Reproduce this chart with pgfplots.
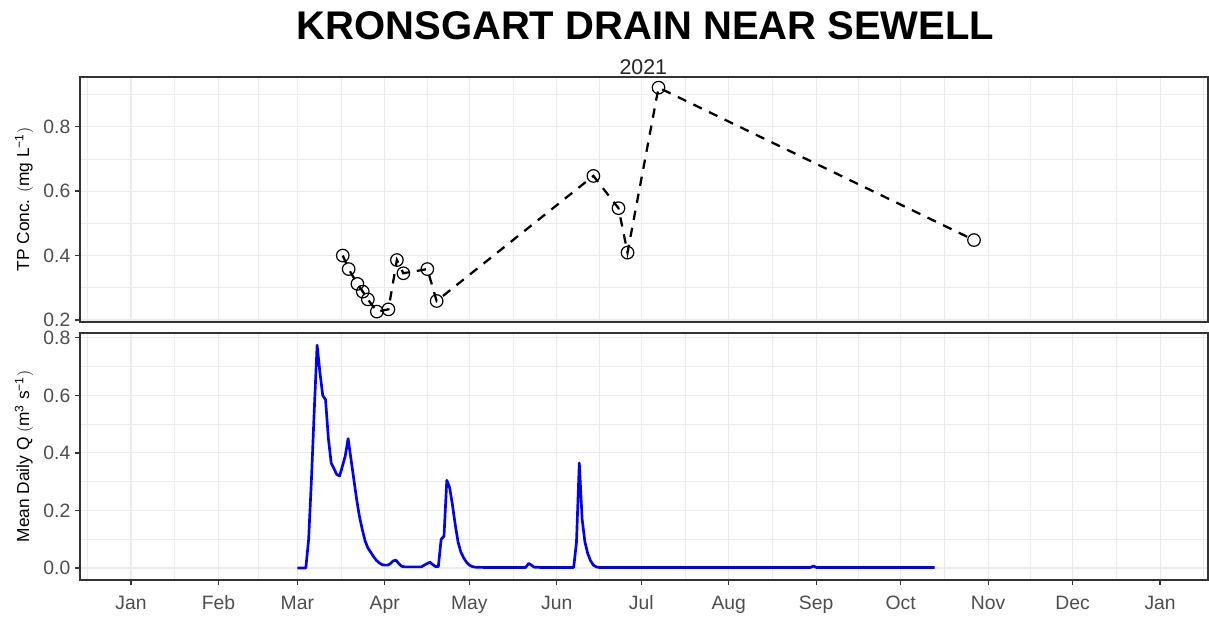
\documentclass[border=0pt]{standalone}
\usepackage{fontspec}
\setmainfont{Liberation Sans}
\usepackage{pgfplots}
\pgfplotsset{compat=1.18}
\definecolor{gridc}{HTML}{EBEBEB}
\definecolor{axc}{HTML}{333333}
\definecolor{tickc}{HTML}{4D4D4D}
\pgfplotsset{
 common/.style={
  scale only axis, width=846pt,
  xmin=-18.1, xmax=382,
  axis line style={axc, line width=0.9pt},
  grid=both,
  major grid style={gridc, line width=0.8pt},
  minor grid style={gridc, line width=0.5pt},
  xtick={0,31,59,90,120,151,181,212,243,273,304,334,365},
  minor xtick={-15.5,15.5,45,74.5,105,135.5,166,196.5,227.5,258,288.5,319,349.5,380.5},
  tick style={axc, line width=0.9pt},
  major tick length=3.75pt,
  minor tick length=0pt,
  tick align=outside,
  tick pos=left,
  ticklabel style={font=\fontsize{14.5}{16}\selectfont, text=tickc},
  /pgf/number format/assume math mode=true,
  /pgf/number format/fixed, /pgf/number format/fixed zerofill, /pgf/number format/precision=1,
  ylabel style={font=\fontsize{13}{15}\selectfont, text=black, at={(axis description cs:-0.0496,0.5)}, anchor=center},
 }
}
\begin{document}
\begin{tikzpicture}
\useasboundingbox (0,0) rectangle (906.75pt,462.75pt);
\node[font=\fontsize{30}{34}\selectfont\bfseries] at (484.1pt,443.4pt) {KRONSGART DRAIN NEAR SEWELL};
\node[font=\fontsize{16}{18}\selectfont, text=black!85] at (482.5pt,412.7pt) {2021};

\begin{axis}[common,
  at={(60pt,221.25pt)}, anchor=south west, height=183.75pt,
  ymin=0.1938, ymax=0.954,
  ytick={0.2,0.4,0.6,0.8}, minor ytick={0.3,0.5,0.7,0.9},
  xticklabels={}, xtick style={draw=none},
  ylabel={TP Conc. $\big($mg L\textsuperscript{−1}$\big)$},
]
\addplot[black, line width=1.7pt, dash pattern=on 7pt off 6pt, mark=o, mark size=4.7pt,
  mark options={solid, line width=0.9pt, fill=none}] coordinates {
(75.1,0.400) (77.2,0.358) (80.3,0.312) (82.2,0.288) (84.0,0.264) (87.2,0.226)
(91.3,0.233) (94.3,0.386) (96.6,0.345) (105.1,0.358) (108.4,0.259)
(164.0,0.647) (172.9,0.547) (176.1,0.409) (187.1,0.921) (299.0,0.448)
};
\end{axis}

\begin{axis}[common,
  at={(60pt,27.75pt)}, anchor=south west, height=185.25pt,
  ymin=-0.0417, ymax=0.817,
  ytick={0,0.2,0.4,0.6,0.8}, minor ytick={0.1,0.3,0.5,0.7},
  xticklabels={Jan,Feb,Mar,Apr,May,Jun,Jul,Aug,Sep,Oct,Nov,Dec,Jan},
  xticklabel style={yshift=-4.5pt},
  ylabel={Mean Daily Q $\big($m\textsuperscript{3} s\textsuperscript{−1}$\big)$},
]
\addplot[blue, line width=2pt, line join=round] coordinates {
(59,0) (60,0) (61,0) (62,0) (63,0.10) (64,0.31) (65,0.55) (66,0.775) (67,0.68) (68,0.60)
(69,0.585) (70,0.45) (71,0.365) (72,0.345) (73,0.325) (74,0.32) (75,0.355) (76,0.39)
(77,0.45) (78,0.38) (79,0.31) (80,0.24) (81,0.18) (82,0.135) (83,0.095) (84,0.07)
(85,0.055) (86,0.04) (87,0.027) (88,0.018) (89,0.012) (90,0.01) (91,0.01) (92,0.015)
(93,0.025) (94,0.027) (95,0.015) (96,0.006) (97,0.004) (98,0.004) (99,0.004) (100,0.004)
(101,0.004) (102,0.004) (103,0.004) (104,0.01) (105,0.015) (106,0.02) (107,0.012)
(108,0.005) (109,0.005) (110,0.10) (111,0.11) (112,0.305) (113,0.28) (114,0.22)
(115,0.15) (116,0.09) (117,0.055) (118,0.035) (119,0.02) (120,0.01) (121,0.005)
(122,0.003) (125,0.002) (130,0.002) (135,0.002) (140,0.002) (141,0.016) (142,0.01)
(143,0.003) (145,0.002) (150,0.002) (155,0.002) (157,0.002) (158,0.09) (159,0.365)
(160,0.17) (161,0.09) (162,0.05) (163,0.025) (164,0.01) (165,0.004) (166,0.002)
(180,0.002) (200,0.002) (220,0.002) (241,0.002) (242,0.007) (243,0.002) (260,0.002)
(285,0.002)
};
\end{axis}
\end{tikzpicture}
\end{document}
